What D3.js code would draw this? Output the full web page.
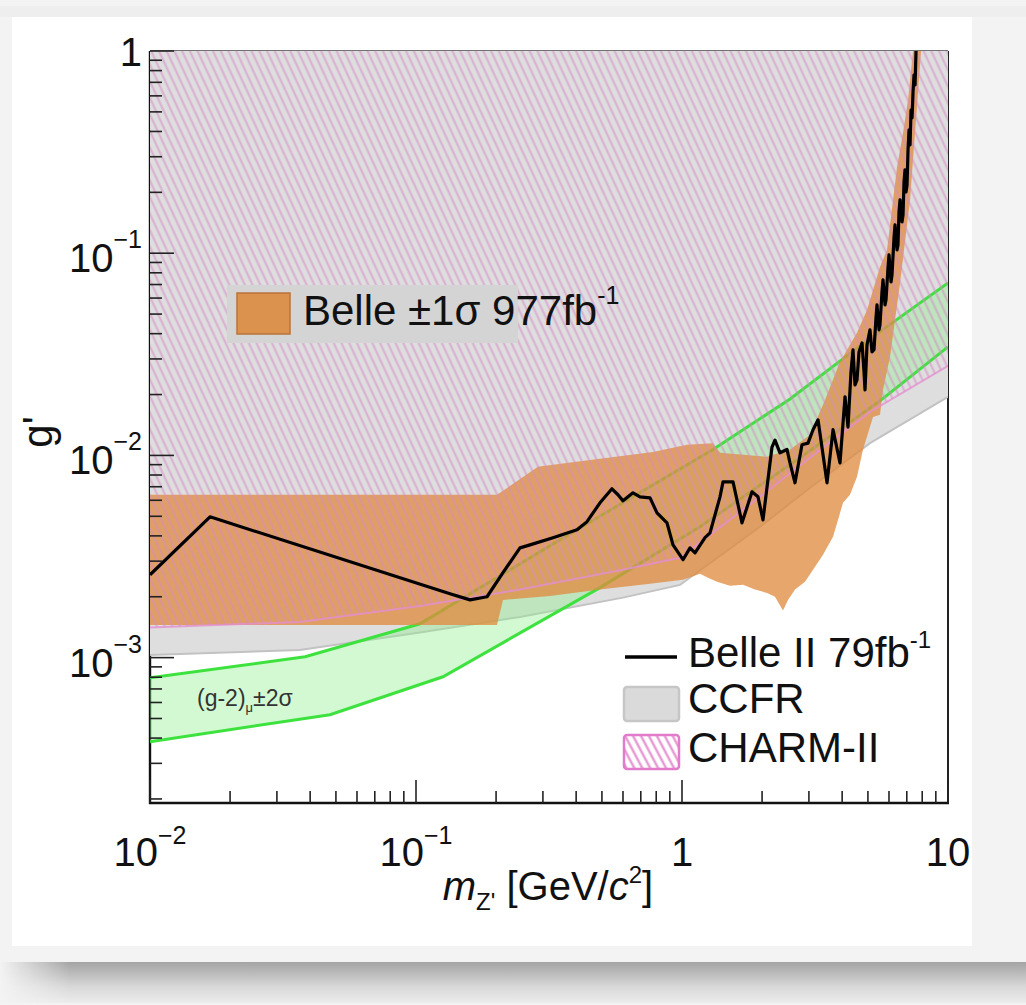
<!DOCTYPE html>
<html>
<head>
<meta charset="utf-8">
<script src="https://cdn.jsdelivr.net/npm/d3@7"></script>
<style>
  body { margin: 0; background: #f2f2f2; }
  svg { display: block; font-family: "Liberation Sans", Arial, sans-serif; }
</style>
</head>
<body>
<svg id="chart" width="1026" height="1005"></svg>
<script>
// ---- data: [m_Z' (GeV/c^2), g'] ----

// CHARM-II lower edge of the excluded region
const charmEdge = [[0.01, 0.00141], [0.0366, 0.00150], [0.1035, 0.00180], [0.246, 0.00217],
  [0.600, 0.00272], [0.983, 0.00312], [1.965, 0.00624], [3.03, 0.00973], [5.09, 0.0164], [10, 0.0277]];

// CCFR lower edge of the excluded region
const ccfrEdge = [[0.01, 0.00103], [0.0366, 0.00109], [0.1035, 0.00133], [0.246, 0.00159],
  [0.600, 0.00198], [0.983, 0.00229], [1.965, 0.00444], [3.03, 0.00692], [5.09, 0.0115], [10, 0.0195]];

// (g-2)_mu +-2 sigma band
const gm2Upper = [[0.01, 0.000795], [0.0383, 0.00101], [0.1035, 0.00147], [0.3478, 0.00383],
  [1.308, 0.0107], [2.547, 0.0190], [4.669, 0.0348], [10, 0.0713]];
const gm2Lower = [[0.01, 0.000384], [0.0475, 0.000522], [0.1263, 0.000804], [0.4917, 0.00222],
  [1.169, 0.00444], [2.777, 0.00973], [5.55, 0.0186], [10, 0.0344]];

// Belle +-1 sigma 977 fb^-1 band
const belleUpper = [[0.01, 0.00639], [0.2016, 0.00639], [0.2874, 0.00878], [0.3273, 0.00899],
  [0.778, 0.0104], [1.044, 0.0113], [1.308, 0.0115], [1.39, 0.0103], [2.087, 0.00984],
  [2.547, 0.0107], [3.029, 0.0126], [3.449, 0.0188], [3.926, 0.0290], [4.549, 0.0404],
  [4.961, 0.0524], [5.551, 0.0855], [5.898, 0.1038], [6.433, 0.2671], [6.775, 0.3933],
  [7.075, 0.5725], [7.389, 1.0]];
const belleLower = [[0.01, 0.00145], [0.2016, 0.00145], [0.2123, 0.00193], [0.3191, 0.00202],
  [0.4917, 0.00217], [0.7582, 0.00232], [1.0088, 0.00243], [1.169, 0.00260], [1.252, 0.00248],
  [1.354, 0.00237], [1.515, 0.00227], [1.696, 0.00229], [1.881, 0.00217], [2.087, 0.00209],
  [2.237, 0.00200], [2.397, 0.00171], [2.503, 0.00193], [2.660, 0.00217], [2.900, 0.00237],
  [3.109, 0.00272], [3.389, 0.00323], [3.697, 0.00396], [4.030, 0.00583], [4.281, 0.00639],
  [4.549, 0.00784], [4.792, 0.0107], [5.224, 0.0155], [5.551, 0.0159], [5.697, 0.0211],
  [6.053, 0.0307], [6.602, 0.0713], [7.199, 0.1834], [7.918, 1.0]];

// Belle II 79 fb^-1 limit
const belle2 = [[0.01, 0.00257], [0.01681, 0.00497], [0.1342, 0.00207], [0.1596, 0.00193],
  [0.1849, 0.00200], [0.2123, 0.00263], [0.2460, 0.00349], [0.2683, 0.00361], [0.3273, 0.00392],
  [0.4030, 0.00429], [0.4394, 0.00470], [0.4917, 0.00583], [0.5453, 0.00684], [0.5745, 0.00639],
  [0.6002, 0.00596], [0.6542, 0.00653], [0.6951, 0.00624], [0.7582, 0.00617], [0.8053, 0.00520],
  [0.8782, 0.00464], [0.9251, 0.00361], [1.0088, 0.00305], [1.0717, 0.00349], [1.1193, 0.00330],
  [1.2203, 0.00392], [1.2744, 0.00414], [1.3895, 0.00624], [1.4261, 0.00740], [1.5552, 0.00740],
  [1.6810, 0.00464], [1.8329, 0.00661], [1.9307, 0.00624], [2.0160, 0.00480], [2.1793, 0.0110],
  [2.2367, 0.0119], [2.3355, 0.0103], [2.4816, 0.0107], [2.5468, 0.00919], [2.6596, 0.00732],
  [2.8256, 0.0113], [2.9767, 0.0115], [3.1085, 0.0134], [3.2462, 0.0150], [3.5090, 0.00732],
  [3.6969, 0.0134], [3.9264, 0.00919], [4.1002, 0.0195], [4.2080, 0.0138], [4.318, 0.0259],
  [4.3940, 0.0333], [4.471, 0.0223], [4.5492, 0.0236], [4.628, 0.0325], [4.7503, 0.0360],
  [4.833, 0.0259], [4.8753, 0.0211], [4.9605, 0.0352], [5.0896, 0.0418], [5.180, 0.0325],
  [5.270, 0.0333], [5.362, 0.0479], [5.4085, 0.0555], [5.504, 0.0418], [5.5505, 0.0442],
  [5.6475, 0.0644], [5.6969, 0.0738], [5.7969, 0.0555], [5.847, 0.0588], [5.949, 0.0846],
  [6.001, 0.0981], [6.106, 0.0721], [6.159, 0.0781], [6.266, 0.1190], [6.3217, 0.1380],
  [6.4327, 0.1038], [6.486, 0.1099], [6.543, 0.1600], [6.6018, 0.1834], [6.716, 0.1428],
  [6.775, 0.1546], [6.833, 0.2251], [6.8935, 0.2581], [6.953, 0.2009], [7.015, 0.2176],
  [7.0747, 0.3241], [7.136, 0.4069], [7.199, 0.3430], [7.2617, 0.5110], [7.325, 0.4665],
  [7.3886, 0.6270], [7.453, 0.7612], [7.518, 0.6791], [7.583, 1.0]];

// axes
const xDomain = [0.01, 10];
const yDomain = [1.91e-4, 1];
const xMajor = [0.01, 0.1, 1, 10];
const xLabels = [['10', '\u22122'], ['10', '\u22121'], ['1', ''], ['10', '']];
const yMajor = [1, 0.1, 0.01, 0.001];
const yLabels = [['1', ''], ['10', '\u22121'], ['10', '\u22122'], ['10', '\u22123']];

// ---- drawing ----
const W = 1026, H = 1005;
const margin = {top: 51, right: 78, bottom: 202, left: 150};
const svg = d3.select('#chart');

const x = d3.scaleLog().domain(xDomain).range([margin.left, W - margin.right]);
const y = d3.scaleLog().domain(yDomain).range([H - margin.bottom, margin.top]);
const x0 = x.range()[0], x1 = x.range()[1], yb = y.range()[0], yt = y.range()[1];

const defs = svg.append('defs');

// page: grey border, white card, soft shadow band below
svg.append('rect').attr('width', W).attr('height', H).attr('fill', '#f3f3f3');
svg.append('rect').attr('x', 0).attr('y', 6).attr('width', W).attr('height', 11).attr('fill', '#eeeeee');
svg.append('rect').attr('x', 12).attr('y', 17).attr('width', 960).attr('height', 929).attr('fill', '#fff');

const sg = defs.append('linearGradient').attr('id', 'shadowV')
  .attr('x1', 0).attr('y1', 0).attr('x2', 0).attr('y2', 1);
sg.append('stop').attr('offset', '0%').attr('stop-color', '#a4a4a4');
sg.append('stop').attr('offset', '30%').attr('stop-color', '#bdbdbd');
sg.append('stop').attr('offset', '60%').attr('stop-color', '#d8d8d8');
sg.append('stop').attr('offset', '100%').attr('stop-color', '#ececec');
svg.append('rect').attr('x', 0).attr('y', 962).attr('width', W).attr('height', 41).attr('fill', 'url(#shadowV)');
const sh = defs.append('linearGradient').attr('id', 'shadowH');
sh.append('stop').attr('offset', '0%').attr('stop-color', '#f3f3f3').attr('stop-opacity', 1);
sh.append('stop').attr('offset', '100%').attr('stop-color', '#f3f3f3').attr('stop-opacity', 0);
svg.append('rect').attr('x', 0).attr('y', 960).attr('width', 70).attr('height', 45).attr('fill', 'url(#shadowH)');

// hatch used for CHARM-II
defs.append('pattern').attr('id', 'hatch').attr('patternUnits', 'userSpaceOnUse')
  .attr('width', 7).attr('height', 7).attr('patternTransform', 'rotate(-25)')
  .append('line').attr('x1', 3.5).attr('y1', -1).attr('x2', 3.5).attr('y2', 8)
  .attr('stroke', '#d58bc6').attr('stroke-width', 2).attr('stroke-opacity', 0.6);
const hl = defs.append('pattern').attr('id', 'hatchLeg').attr('patternUnits', 'userSpaceOnUse')
  .attr('width', 7).attr('height', 7).attr('patternTransform', 'rotate(-28)');
hl.append('rect').attr('width', 7).attr('height', 7).attr('fill', '#fff');
hl.append('line').attr('x1', 3.5).attr('y1', -1).attr('x2', 3.5).attr('y2', 8)
  .attr('stroke', '#e58fd0').attr('stroke-width', 2.2);

defs.append('clipPath').attr('id', 'plotClip').append('rect')
  .attr('x', x0).attr('y', yt).attr('width', x1 - x0).attr('height', yb - yt);

// frame (drawn first so the fills half-cover it like the original)
svg.append('line').attr('x1', x0).attr('x2', x1).attr('y1', yt).attr('y2', yt)
  .attr('stroke', '#444').attr('stroke-width', 1.6);
svg.append('line').attr('x1', x1).attr('x2', x1).attr('y1', yt).attr('y2', yb)
  .attr('stroke', '#222').attr('stroke-width', 2);
svg.append('line').attr('x1', x0).attr('x2', x0).attr('y1', yt).attr('y2', yb + 1)
  .attr('stroke', '#111').attr('stroke-width', 2.4);
svg.append('line').attr('x1', x0 - 1).attr('x2', x1 + 1).attr('y1', yb).attr('y2', yb)
  .attr('stroke', '#111').attr('stroke-width', 2.4);

const plot = svg.append('g').attr('clip-path', 'url(#plotClip)');

const line = d3.line().x(d => x(d[0])).y(d => y(d[1]));
const above = d3.area().x(d => x(d[0])).y0(yt - 2).y1(d => y(d[1]));
const band = (up, lo) => line(up.concat(lo.slice().reverse())) + 'Z';

// CCFR
plot.append('path').attr('d', above(ccfrEdge)).attr('fill', '#dedede');
plot.append('path').attr('d', line(ccfrEdge)).attr('fill', 'none')
  .attr('stroke', '#c2c2c2').attr('stroke-width', 2);

// (g-2) band
plot.append('path').attr('d', band(gm2Upper, gm2Lower)).attr('fill', '#8ef08e').attr('fill-opacity', 0.4);
[gm2Upper, gm2Lower].forEach(s => plot.append('path').attr('d', line(s)).attr('fill', 'none')
  .attr('stroke', '#3ee23e').attr('stroke-width', 3));

// Belle band
plot.append('path').attr('d', band(belleUpper, belleLower))
  .attr('fill', '#e08a3c').attr('fill-opacity', 0.76);

// CHARM-II hatch + edge
plot.append('path').attr('d', above(charmEdge)).attr('fill', 'url(#hatch)');
plot.append('path').attr('d', line(charmEdge)).attr('fill', 'none')
  .attr('stroke', '#e48fcf').attr('stroke-width', 2).attr('stroke-opacity', 0.8);

// Belle II line
plot.append('path').attr('d', line(belle2)).attr('fill', 'none')
  .attr('stroke', '#000').attr('stroke-width', 3.2).attr('stroke-linejoin', 'round');

// ticks
const yMinor = y.ticks().filter(v => !yMajor.some(m => Math.abs(m - v) / m < 1e-6));
const xMinor = x.ticks().filter(v => !xMajor.some(m => Math.abs(m - v) / m < 1e-6));
const ticks = svg.append('g').attr('stroke', '#222').attr('stroke-width', 1.6);
ticks.selectAll('.ymaj').data(yMajor).join('line')
  .attr('x1', x0).attr('x2', x0 + 24).attr('y1', d => y(d)).attr('y2', d => y(d));
ticks.selectAll('.ymin').data(yMinor).join('line')
  .attr('x1', x0).attr('x2', x0 + 12).attr('y1', d => y(d)).attr('y2', d => y(d));
ticks.selectAll('.xmaj').data(xMajor).join('line')
  .attr('x1', d => x(d)).attr('x2', d => x(d)).attr('y1', yb).attr('y2', yb - 23);
ticks.selectAll('.xmin').data(xMinor).join('line')
  .attr('x1', d => x(d)).attr('x2', d => x(d)).attr('y1', yb).attr('y2', yb - 12);

// tick labels
const yl = svg.append('g').attr('font-size', 40).attr('fill', '#111').attr('text-anchor', 'end');
yMajor.forEach((v, i) => {
  const t = yl.append('text').attr('x', x0 - 8).attr('y', y(v) + (i === 0 ? 15 : 19));
  t.append('tspan').text(yLabels[i][0]);
  if (yLabels[i][1]) t.append('tspan').attr('font-size', 25).attr('dy', -24).text(yLabels[i][1]);
});
const xl = svg.append('g').attr('font-size', 40).attr('fill', '#111').attr('text-anchor', 'middle');
xMajor.forEach((v, i) => {
  const t = xl.append('text').attr('x', x(v)).attr('y', yb + 63);
  t.append('tspan').text(xLabels[i][0]);
  if (xLabels[i][1]) t.append('tspan').attr('font-size', 25).attr('dy', -22).text(xLabels[i][1]);
});

// axis titles
const xt = svg.append('text').attr('x', 548).attr('y', 900).attr('font-size', 40)
  .attr('text-anchor', 'middle').attr('fill', '#111');
xt.append('tspan').attr('font-style', 'italic').text('m');
xt.append('tspan').attr('font-size', 24).attr('dy', 10).text("Z'");
xt.append('tspan').attr('dy', -10).text(' [GeV/');
xt.append('tspan').attr('font-style', 'italic').text('c');
xt.append('tspan').attr('font-size', 24).attr('dy', -17).text('2');
xt.append('tspan').attr('dy', 17).text(']');

svg.append('text').attr('transform', 'translate(52,432) rotate(-90)')
  .attr('text-anchor', 'middle').attr('font-size', 42).attr('fill', '#111').text("g'");

// (g-2) label
const gl = svg.append('text').attr('x', 197).attr('y', 706).attr('font-size', 23).attr('fill', '#333');
gl.append('tspan').text('(g-2)');
gl.append('tspan').attr('font-size', 13).attr('dy', 6).text('\u03bc');
gl.append('tspan').attr('dy', -6).text('\u00b12\u03c3');

// Belle legend box
svg.append('rect').attr('x', 227).attr('y', 285).attr('width', 291).attr('height', 58).attr('fill', '#d4d4d4');
svg.append('rect').attr('x', 237).attr('y', 293).attr('width', 53).attr('height', 41)
  .attr('fill', '#dc924f').attr('stroke', '#b9733a').attr('stroke-width', 1.5);
const bt = svg.append('text').attr('x', 303).attr('y', 325).attr('font-size', 42).attr('fill', '#111');
bt.append('tspan').text('Belle \u00b11\u03c3 977fb');
bt.append('tspan').attr('font-size', 25).attr('dy', -21).text('-1');

// lower-right legend
const lg = svg.append('g').attr('font-size', 42).attr('fill', '#111');
lg.append('line').attr('x1', 625).attr('x2', 677).attr('y1', 657).attr('y2', 657)
  .attr('stroke', '#000').attr('stroke-width', 3.5);
const l1 = lg.append('text').attr('x', 688).attr('y', 667);
l1.append('tspan').text('Belle II 79fb');
l1.append('tspan').attr('font-size', 24).attr('dy', -19).text('-1');
lg.append('rect').attr('x', 624).attr('y', 687).attr('width', 55).attr('height', 34).attr('rx', 3)
  .attr('fill', '#dadada').attr('stroke', '#c6c6c6').attr('stroke-width', 2.5);
lg.append('text').attr('x', 688).attr('y', 713).text('CCFR');
lg.append('rect').attr('x', 624).attr('y', 735).attr('width', 55).attr('height', 34).attr('rx', 3)
  .attr('fill', 'url(#hatchLeg)').attr('stroke', '#e37bcb').attr('stroke-width', 2.5);
lg.append('text').attr('x', 688).attr('y', 762).text('CHARM-II');
</script>
</body>
</html>
